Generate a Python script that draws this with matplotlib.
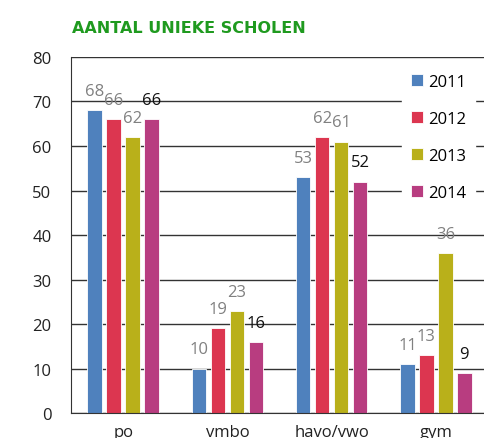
import matplotlib
matplotlib.use("Agg")
import matplotlib.pyplot as plt
import numpy as np

categories = ["po", "vmbo", "havo/vwo", "gym"]
years = ["2011", "2012", "2013", "2014"]
values_2011 = [68, 10, 53, 11]
values_2012 = [66, 19, 62, 13]
values_2013 = [62, 23, 61, 36]
values_2014 = [66, 16, 52, 9]
yticks = [0, 10, 20, 30, 40, 50, 60, 70, 80]

series = [values_2011, values_2012, values_2013, values_2014]
colors = ["#4f81bd", "#dc3650", "#b9b01a", "#b83d80"]
label_colors = ["#808080", "#808080", "#808080", "#111111"]

plt.rcParams["font.family"] = ["Open Sans", "DejaVu Sans"]

fig = plt.figure(figsize=(4.84, 4.39), dpi=100)
ax = fig.add_axes([0.1467, 0.0569, 0.8616, 0.811])

x = np.arange(len(categories)) + 0.5
step = 0.182
width = 0.14
for i, (vals, yr) in enumerate(zip(series, years)):
    pos = x + (i - 1.5) * step
    bars = ax.bar(pos, vals, width, color=colors[i], edgecolor="white",
                  linewidth=0.6, label=yr, zorder=2)
    for b, v in zip(bars, vals):
        ax.annotate(str(v), (b.get_x() + b.get_width() / 2, v),
                    xytext=(0, 8), textcoords="offset points",
                    ha="center", va="bottom", fontsize=12,
                    color=label_colors[i], zorder=3)

ax.set_xlim(0, 4)
ax.set_ylim(0, 80)
ax.set_yticks(yticks)
ax.set_xticks(x)
ax.set_xticklabels(categories)
ax.tick_params(axis="both", length=0, labelsize=12, colors="#222222")
ax.tick_params(axis="y", pad=14)
ax.tick_params(axis="x", pad=8)
ax.yaxis.grid(True, color="#333333", linewidth=1.0)
ax.set_axisbelow(True)
for s in ["top", "right"]:
    ax.spines[s].set_visible(False)
ax.spines["left"].set_color("#333333")
ax.spines["bottom"].set_color("#333333")

leg = ax.legend(loc="upper left", bbox_to_anchor=(0.813, 0.869),
                bbox_transform=fig.transFigure, frameon=True, fancybox=False,
                fontsize=12, handlelength=0.7, handleheight=0.7,
                handletextpad=0.3, labelspacing=1.25, borderpad=0.55)
leg.get_frame().set_facecolor("white")
leg.get_frame().set_edgecolor("white")
leg.get_frame().set_alpha(1)

fig.text(0.149, 0.935, "AANTAL UNIEKE SCHOLEN", fontsize=11.5, fontweight="bold",
         color="#1f9a1f", ha="left", va="center", family="DejaVu Sans")

fig.savefig("out.png", dpi=100)
